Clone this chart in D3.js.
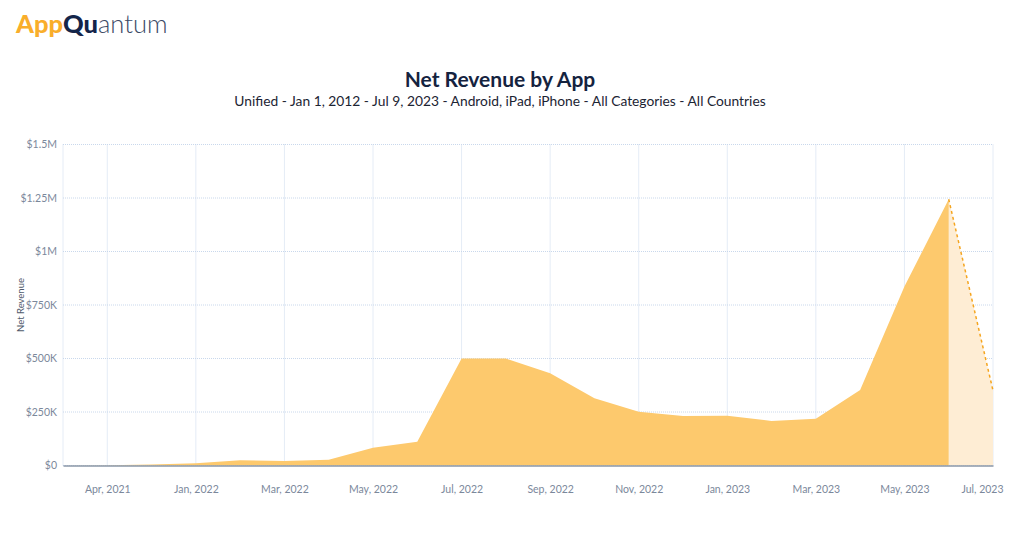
<!DOCTYPE html>
<html>
  <head>
    <meta charset="utf-8">
    <style>
      body { margin: 0; background: #fff; }
      svg { display: block; font-family: Lato, "Open Sans", sans-serif; }
    </style>
  </head>
  <body>
    <script src="https://d3js.org/d3.v7.min.js"></script>
    <script type="text/javascript">
      const width = 1024;
      const height = 540;
      const margin = { top: 144.5, right: 31, bottom: 74.5, left: 63 };

      // monthly categories (months without data are skipped by the source axis)
      const months = [
        'Mar, 2021', 'Apr, 2021', 'Dec, 2021', 'Jan, 2022', 'Feb, 2022', 'Mar, 2022',
        'Apr, 2022', 'May, 2022', 'Jun, 2022', 'Jul, 2022', 'Aug, 2022', 'Sep, 2022',
        'Oct, 2022', 'Nov, 2022', 'Dec, 2022', 'Jan, 2023', 'Feb, 2023', 'Mar, 2023',
        'Apr, 2023', 'May, 2023', 'Jun, 2023', 'Jul, 2023'
      ];
      const revenue = [
        500, 1500, 4500, 10000, 24000, 21000,
        27000, 83000, 111000, 500000, 500000, 431000,
        314000, 251000, 231000, 233000, 208000, 219000,
        353000, 836000, 1244000, 350000
      ];
      const xTickLabels = [
        'Apr, 2021', 'Jan, 2022', 'Mar, 2022', 'May, 2022', 'Jul, 2022', 'Sep, 2022',
        'Nov, 2022', 'Jan, 2023', 'Mar, 2023', 'May, 2023', 'Jul, 2023'
      ];
      const yTicks = [0, 250000, 500000, 750000, 1000000, 1250000, 1500000];
      const yTickLabels = ['$0', '$250K', '$500K', '$750K', '$1M', '$1.25M', '$1.5M'];
      // last month is partial, drawn as a projection
      const projectedFrom = 'Jun, 2023';

      const data = months.map((m, i) => ({ label: m, value: revenue[i] }));
      const splitIndex = months.indexOf(projectedFrom);
      const actual = data.slice(0, splitIndex + 1);
      const projected = data.slice(splitIndex);

      const scaleX = d3.scalePoint()
        .domain(months)
        .range([margin.left, width - margin.right]);
      const scaleY = d3.scaleLinear()
        .domain([0, 1500000])
        .range([height - margin.bottom, margin.top]);

      const svg = d3.select('body')
        .append('svg')
        .attr('width', width)
        .attr('height', height);

      // logo
      const logo = svg.append('text')
        .attr('x', 16)
        .attr('y', 33)
        .attr('font-family', 'Lato, sans-serif')
        .attr('font-size', 25.5);
      logo.append('tspan').attr('fill', '#f9ae2b').attr('font-weight', 900).text('App');
      logo.append('tspan').attr('fill', '#14254a').attr('font-weight', 900).text('Qu');
      logo.append('tspan').attr('fill', '#3c4a66').attr('font-weight', 300).text('antum');

      // title
      svg.append('text')
        .attr('x', width / 2 - 12)
        .attr('y', 87)
        .attr('text-anchor', 'middle')
        .attr('font-size', 21)
        .attr('font-weight', 700)
        .attr('fill', '#15233f')
        .text('Net Revenue by App');
      svg.append('text')
        .attr('x', width / 2 - 12)
        .attr('y', 106)
        .attr('text-anchor', 'middle')
        .attr('font-size', 13.8)
        .attr('fill', '#1c2433')
        .text('Unified - Jan 1, 2012 - Jul 9, 2023 - Android, iPad, iPhone - All Categories - All Countries');

      // grid
      const grid = svg.append('g')
        .attr('stroke', '#c9d8ec')
        .attr('stroke-width', 1)
        .attr('stroke-dasharray', '1,1');
      grid.selectAll('line.h')
        .data(yTicks)
        .enter()
        .append('line')
        .attr('x1', margin.left)
        .attr('x2', width - margin.right)
        .attr('y1', (d) => scaleY(d))
        .attr('y2', (d) => scaleY(d));
      grid.selectAll('line.v')
        .data([months[0]].concat(xTickLabels))
        .enter()
        .append('line')
        .attr('x1', (d) => scaleX(d))
        .attr('x2', (d) => scaleX(d))
        .attr('y1', margin.top)
        .attr('y2', height - margin.bottom);

      // areas
      const area = d3.area()
        .x((d) => scaleX(d.label))
        .y0(scaleY(0))
        .y1((d) => scaleY(d.value));
      svg.append('path')
        .datum(projected)
        .attr('d', area)
        .attr('fill', '#feedd4');
      svg.append('path')
        .datum(actual)
        .attr('d', area)
        .attr('fill', '#fdc96d');

      const line = d3.line()
        .x((d) => scaleX(d.label))
        .y((d) => scaleY(d.value));
      svg.append('path')
        .datum(projected)
        .attr('d', line)
        .attr('fill', 'none')
        .attr('stroke', '#f5a51f')
        .attr('stroke-width', 1.5)
        .attr('stroke-dasharray', '3,3');

      // y axis
      const axisLeft = d3.axisLeft(scaleY)
        .tickValues(yTicks)
        .tickSize(0)
        .tickPadding(6)
        .tickFormat((d, i) => yTickLabels[i]);
      svg.append('g')
        .attr('transform', `translate(${margin.left}, 0)`)
        .call(axisLeft)
        .call((g) => g.select('.domain').remove())
        .call((g) => g.selectAll('text')
          .attr('font-family', 'Lato, sans-serif')
          .attr('font-size', 10.5)
          .attr('fill', '#7b889b'));

      svg.append('text')
        .attr('transform', `translate(24, ${(margin.top + height - margin.bottom) / 2}) rotate(-90)`)
        .attr('text-anchor', 'middle')
        .attr('font-size', 9.5)
        .attr('fill', '#4f5a6b')
        .text('Net Revenue');

      // x axis
      const axisBottom = d3.axisBottom(scaleX)
        .tickValues(xTickLabels)
        .tickSize(0)
        .tickPadding(20);
      const xAxis = svg.append('g')
        .attr('transform', `translate(0, ${height - margin.bottom})`)
        .call(axisBottom);
      xAxis.select('.domain')
        .attr('stroke', '#8a97a9')
        .attr('stroke-width', 1.5);
      xAxis.selectAll('text')
        .attr('font-family', 'Lato, sans-serif')
        .attr('font-size', 10.5)
        .attr('fill', '#7b889b')
        .attr('dx', (d, i) => (i === xTickLabels.length - 1 ? -11 : 0));
    </script>
  </body>
</html>
